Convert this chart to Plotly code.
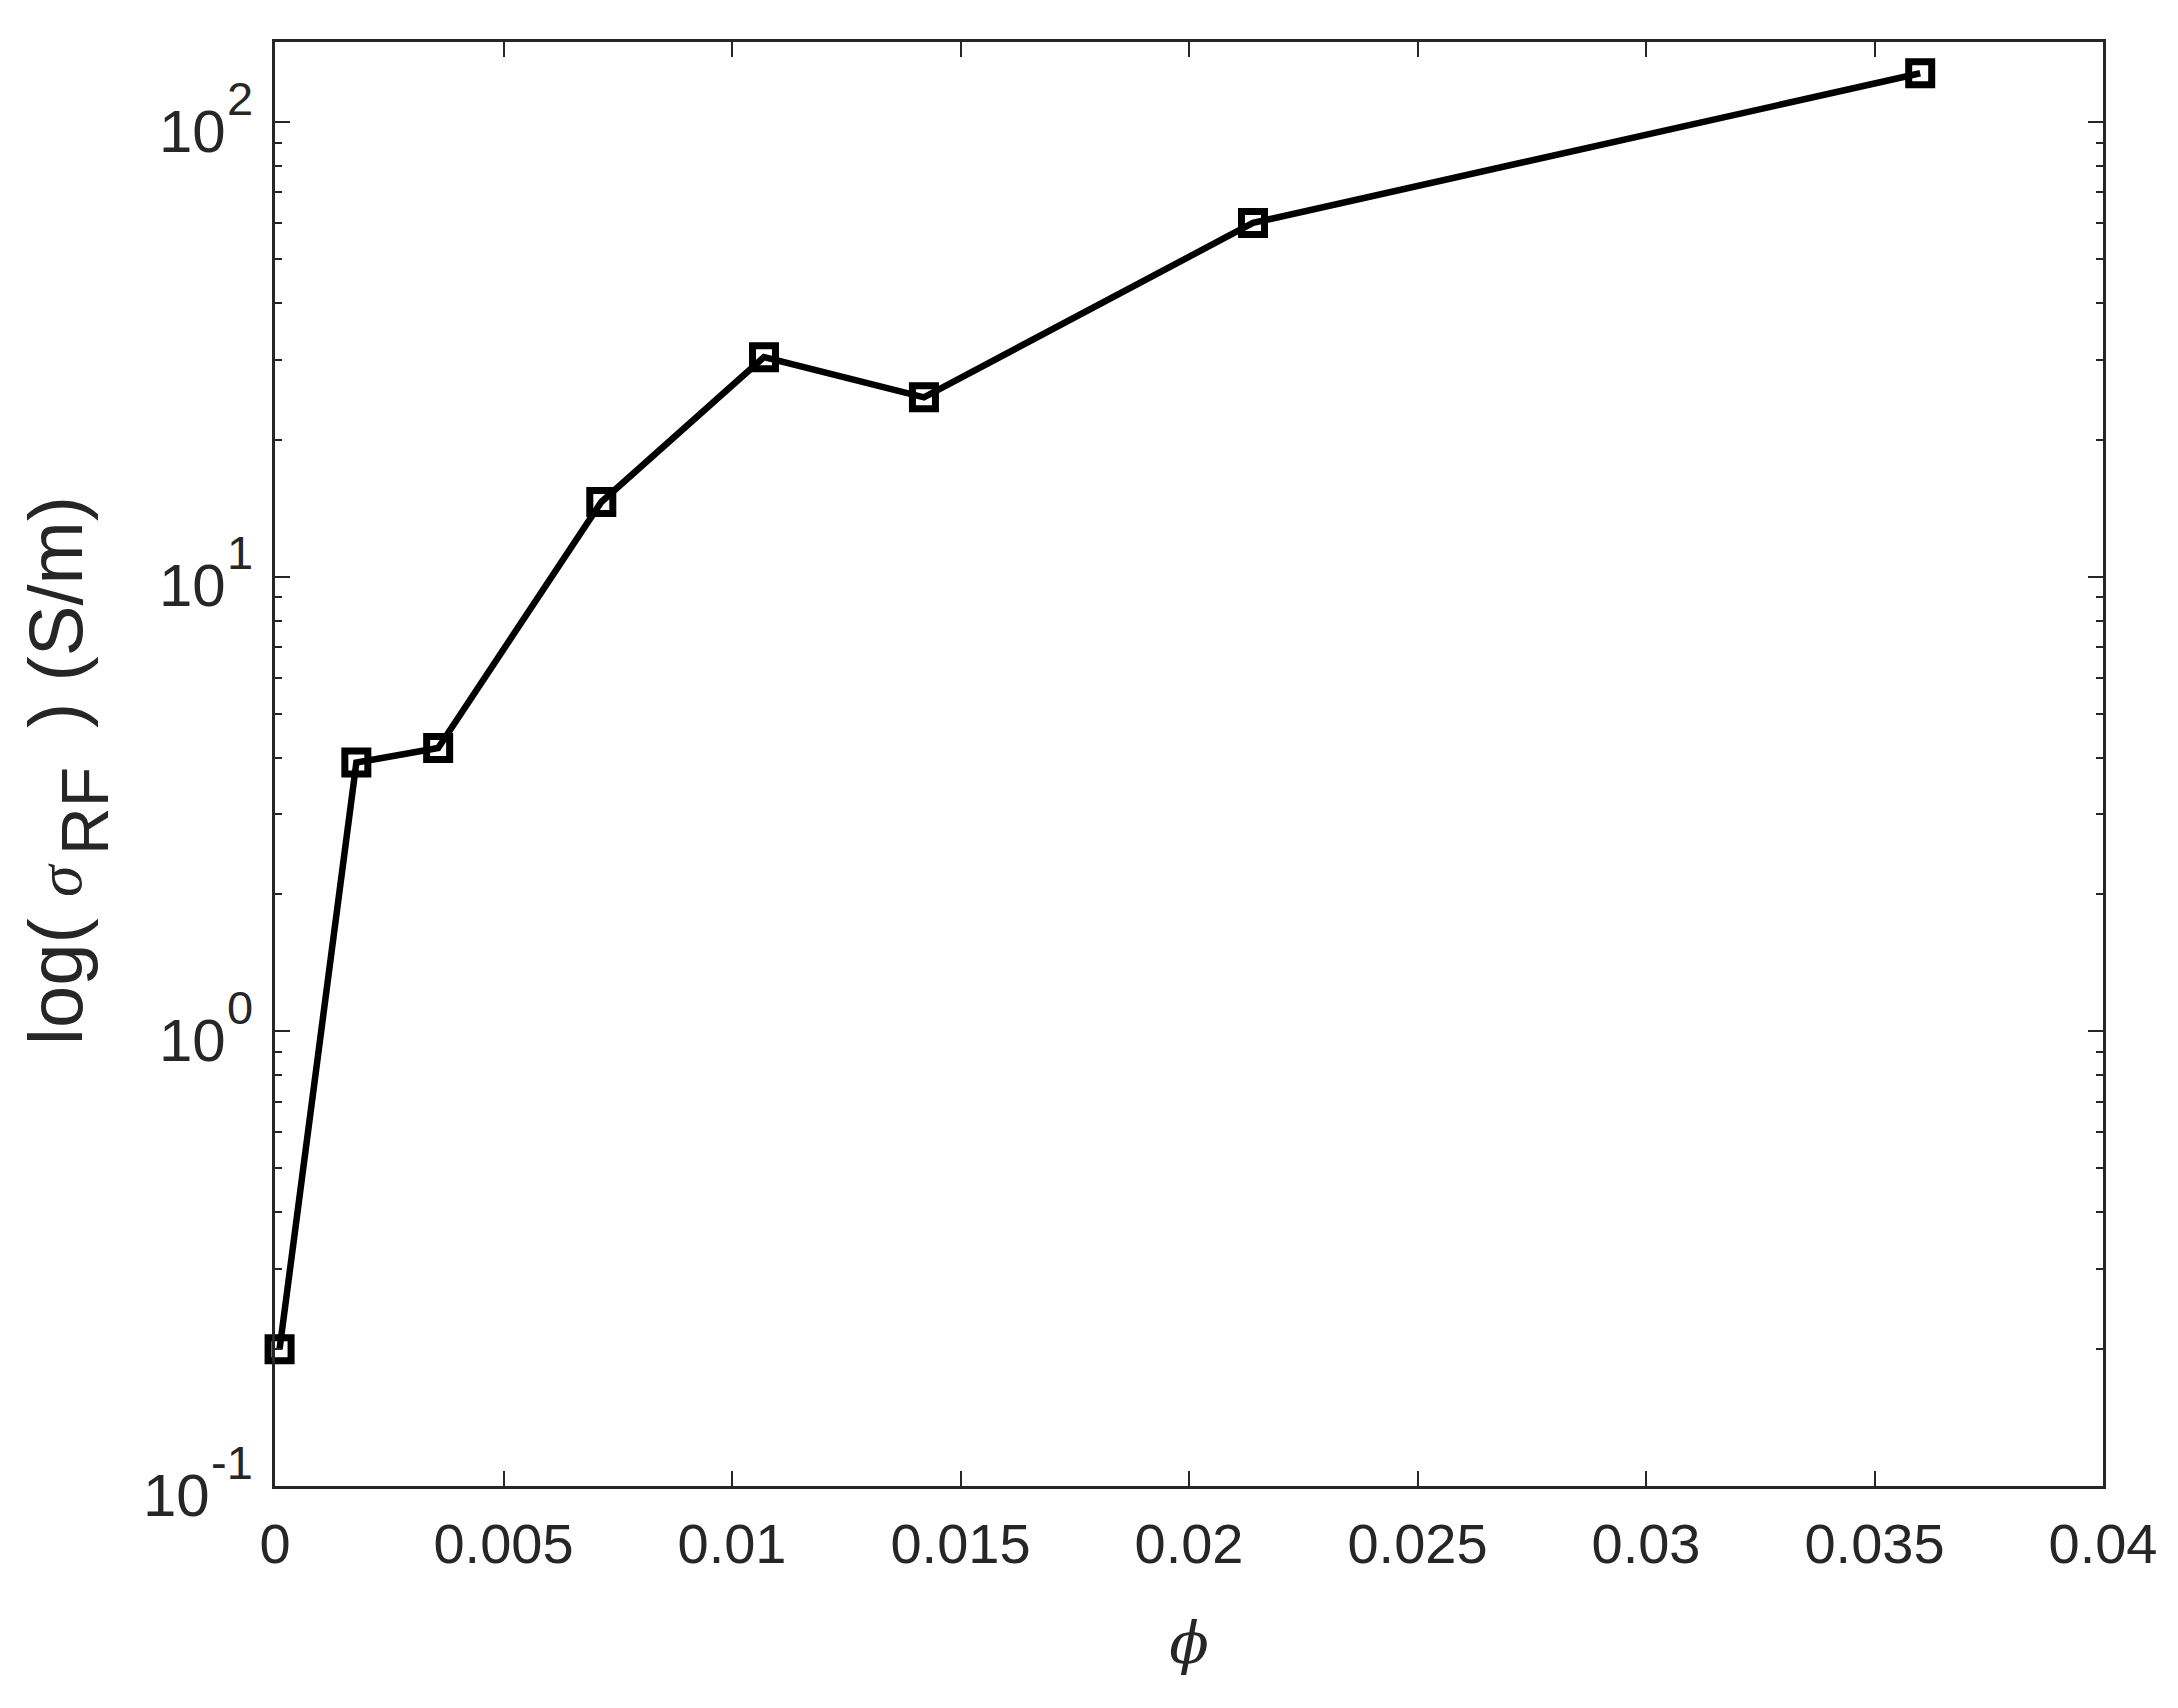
import math
import plotly.graph_objects as go

# Data
phi = [0.0001, 0.00178, 0.00357, 0.00714, 0.0107, 0.0142, 0.0214, 0.0360]
sigma_rf = [0.20, 3.9, 4.2, 14.6, 30.4, 24.8, 60.0, 128.0]

x_ticks = [0, 0.005, 0.01, 0.015, 0.02, 0.025, 0.03, 0.035, 0.04]
x_ticktext = ["0", "0.005", "0.01", "0.015", "0.02", "0.025", "0.03", "0.035", "0.04"]
y_ticks = [0.1, 1, 10, 100]
y_exponents = ["-1", "0", "1", "2"]
y_minor = [m * d for d in (0.1, 1, 10) for m in range(2, 10)]

AX = "#262626"
FONT = "Liberation Sans, Arial, Helvetica, sans-serif"
BASE_SIZE = 60
EXP_SIZE = 47
CHAR_W = {"-": 0.333}

fig = go.Figure()
fig.add_trace(go.Scatter(
    x=phi, y=sigma_rf, mode="lines+markers",
    line=dict(color="black", width=6.5),
    marker=dict(symbol="square-open", size=23, color="black",
                line=dict(color="black", width=7)),
    cliponaxis=False, showlegend=False,
))

annotations = []
# y tick labels: "10" with a large superscript exponent
for v, e in zip(y_ticks, y_exponents):
    ew = sum(CHAR_W.get(c, 0.556) for c in e) * EXP_SIZE
    annotations.append(dict(
        text=e, xref="paper", yref="y", x=0, y=math.log10(v),
        xanchor="right", yanchor="middle", xshift=-20, yshift=24,
        showarrow=False, font=dict(family=FONT, size=EXP_SIZE, color=AX)))
    annotations.append(dict(
        text="10", xref="paper", yref="y", x=0, y=math.log10(v),
        xanchor="right", yanchor="middle", xshift=-20 - ew - 1, yshift=-9,
        showarrow=False, font=dict(family=FONT, size=BASE_SIZE, color=AX)))

# y axis title, built from pieces (TeX-like layout: sigma, lowered RF)
title_pieces = [
    ("log(", FONT, 76, -220, -218),
    ("<i>σ</i>", "Liberation Serif, serif", 64, -216, -116),
    ("RF", FONT, 66, -190, -47),
    (") (S/m)", FONT, 76, -220, 152),
]
for txt, fam, size, xs, ys in title_pieces:
    annotations.append(dict(
        text=txt, textangle=-90, showarrow=False,
        xref="paper", yref="paper", x=0, y=0.5,
        xanchor="center", yanchor="middle", xshift=xs, yshift=ys,
        font=dict(family=fam, size=size, color=AX)))

fig.update_layout(
    width=2178, height=1708,
    margin=dict(l=267, r=83, t=34, b=230),
    paper_bgcolor="white", plot_bgcolor="white",
    font=dict(family=FONT, size=56, color=AX),
    xaxis=dict(
        range=[0, 0.04], tickmode="array", tickvals=x_ticks, ticktext=x_ticktext,
        ticks="inside", ticklen=15, tickwidth=2, tickcolor=AX,
        showline=True, linecolor=AX, linewidth=3, mirror="ticks",
        showgrid=False, zeroline=False,
        tickfont=dict(size=56, color=AX), ticklabelstandoff=7,
        title=dict(text="<i>ϕ</i>", font=dict(family="DejaVu Serif", size=58, color=AX),
                   standoff=49),
    ),
    yaxis=dict(
        type="log", range=[-1, 2.176], tickmode="array", tickvals=y_ticks,
        showticklabels=False,
        ticks="inside", ticklen=15, tickwidth=2, tickcolor=AX,
        minor=dict(ticks="inside", ticklen=7, tickwidth=2, tickcolor=AX,
                   tickmode="array", tickvals=y_minor, showgrid=False),
        showline=True, linecolor=AX, linewidth=3, mirror="ticks",
        showgrid=False, zeroline=False,
    ),
    annotations=annotations,
)

fig.write_html("out.html")
